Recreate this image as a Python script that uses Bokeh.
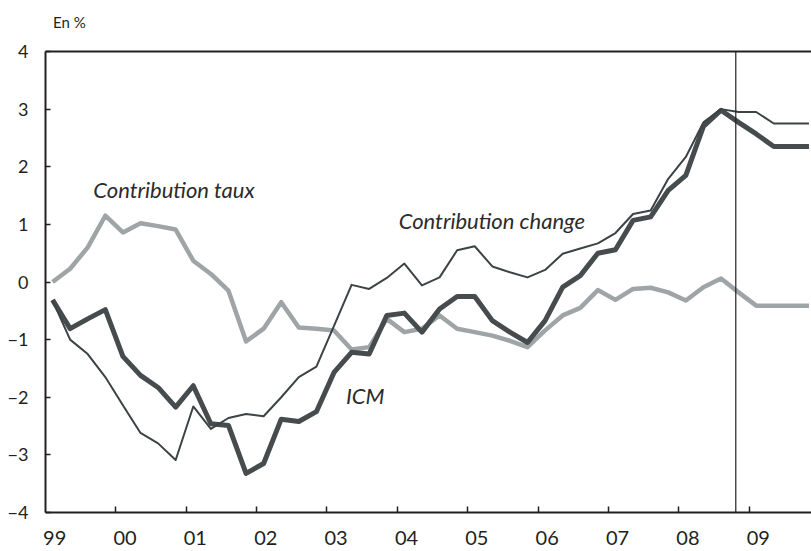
from bokeh.plotting import figure
from bokeh.models import FixedTicker, LinearAxis, Span, Label, Range1d
from bokeh.embed import file_html
from bokeh.resources import INLINE

# quarterly observations 1999Q1 .. 2009Q4 (values in %)
years = list(range(1999, 2010))
quarters = [(y, q) for y in years for q in range(4)]

icm = [-0.31, -0.81, -0.64, -0.48, -1.29, -1.62, -1.83, -2.17, -1.80, -2.46, -2.49,
       -3.32, -3.15, -2.38, -2.42, -2.25, -1.57, -1.22, -1.25, -0.58, -0.54, -0.87,
       -0.47, -0.25, -0.25, -0.67, -0.87, -1.05, -0.67, -0.09, 0.11, 0.50, 0.56,
       1.07, 1.13, 1.59, 1.85, 2.70, 2.98, 2.77, 2.57, 2.35, 2.35, 2.35]
contrib_change = [-0.32, -1.00, -1.25, -1.65, -2.14, -2.62, -2.80, -3.09, -2.16, -2.55, -2.36,
                  -2.29, -2.33, -2.00, -1.65, -1.47, -0.76, -0.05, -0.12, 0.07, 0.32, -0.06,
                  0.08, 0.55, 0.62, 0.27, 0.17, 0.08, 0.21, 0.49, 0.58, 0.67, 0.85,
                  1.18, 1.24, 1.79, 2.17, 2.77, 3.00, 2.95, 2.95, 2.75, 2.75, 2.75]
contrib_taux = [0.00, 0.23, 0.60, 1.15, 0.86, 1.02, 0.97, 0.91, 0.37, 0.14, -0.15,
                -1.03, -0.81, -0.35, -0.79, -0.81, -0.84, -1.17, -1.13, -0.64, -0.87, -0.81,
                -0.58, -0.81, -0.87, -0.93, -1.02, -1.13, -0.84, -0.58, -0.45, -0.14, -0.31,
                -0.12, -0.10, -0.18, -0.32, -0.09, 0.06, -0.18, -0.41, -0.41, -0.41, -0.41]

x_labels = ["99", "00", "01", "02", "03", "04", "05", "06", "07", "08", "09"]
y_ticks = [-4, -3, -2, -1, 0, 1, 2, 3, 4]
unit_label = "En %"
forecast_start = 2008.81

xs = [y + 0.1 + 0.25 * q for (y, q) in quarters]

FONT = "Lato"
DARK = "#231f20"

p = figure(width=811, height=551, output_backend="svg", toolbar_location=None,
           x_range=Range1d(1999.0, 2009.886), y_range=Range1d(-4, 4),
           min_border_left=45, min_border_right=0, min_border_top=51, min_border_bottom=39)
p.outline_line_color = None
p.grid.visible = False
p.background_fill_color = "white"
p.border_fill_color = "white"

# x axis: year labels near the start of each year, tick marks at year boundaries
xa = p.xaxis[0]
xa.ticker = FixedTicker(ticks=[y + 0.13 for y in years], minor_ticks=years[1:])
xa.major_label_overrides = {y + 0.13: lab for y, lab in zip(years, x_labels)}
xa.major_tick_line_color = None
xa.minor_tick_in = 6
xa.minor_tick_out = 0
xa.minor_tick_line_color = DARK
xa.minor_tick_line_width = 1.5
xa.axis_line_color = DARK
xa.axis_line_width = 2
xa.major_label_text_font = FONT
xa.major_label_text_font_size = "20px"
xa.major_label_text_color = DARK
xa.major_label_standoff = 12

ya = p.yaxis[0]
ya.ticker = FixedTicker(ticks=y_ticks)
ya.major_tick_in = 5
ya.major_tick_out = 0
ya.major_tick_line_color = DARK
ya.major_tick_line_width = 1.5
ya.minor_tick_line_color = None
ya.axis_line_color = DARK
ya.axis_line_width = 2
ya.major_label_text_font = FONT
ya.major_label_text_font_size = "18px"
ya.major_label_text_color = DARK
ya.major_label_standoff = 17

# top border line, carrying the unit label "En %"
unit_pos = 1999.34
top = LinearAxis(ticker=FixedTicker(ticks=[unit_pos]), major_tick_line_color=None,
                 minor_tick_line_color=None,
                 major_label_overrides={unit_pos: unit_label},
                 major_label_text_font=FONT, major_label_text_font_size="15px",
                 major_label_text_color=DARK, major_label_standoff=15,
                 axis_line_color=DARK, axis_line_width=2)
p.add_layout(top, "above")

p.add_layout(Span(location=forecast_start, dimension="height", line_color=DARK, line_width=1.2))

p.line(xs, contrib_taux, line_color="#9fa4a7", line_width=4.5, line_join="round")
p.line(xs, icm, line_color="#464c4e", line_width=5, line_join="round")
p.line(xs, contrib_change, line_color="#3c4345", line_width=2, line_join="round")

for txt, x, y in [("Contribution taux", 1999.68, 1.61),
                  ("Contribution change", 2004.02, 1.07),
                  ("ICM", 2003.27, -1.97)]:
    p.add_layout(Label(x=x, y=y, text=txt, text_font=FONT, text_font_style="italic",
                       text_font_size="22px", text_color="#2b2b2b", text_baseline="middle"))

open("out.html", "w").write(file_html(p, INLINE))
